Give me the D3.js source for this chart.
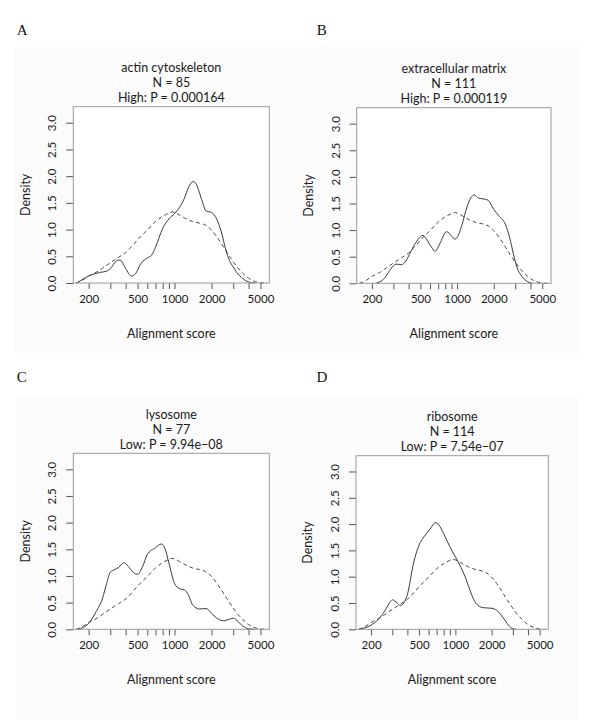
<!DOCTYPE html>
<html>
<head>
<meta charset="utf-8">
<script src="https://cdn.jsdelivr.net/npm/d3@7"></script>
<style>
  html, body { margin: 0; padding: 0; background: #ffffff; }
  svg { display: block; }
  text { font-family: Lato, "Open Sans", sans-serif; fill: #1a1a1a; }
</style>
</head>
<body>
<svg id="chart" width="600" height="720"></svg>
<script>
// ---------------- data ----------------
const panelLetters = ["A", "B", "C", "D"];
const categories = ["actin cytoskeleton", "extracellular matrix", "lysosome", "ribosome"];
const nValues = [85, 111, 77, 114];
const pLabels = ["High: P = 0.000164", "High: P = 0.000119", "Low: P = 9.94e\u221208", "Low: P = 7.54e\u221207"];
const xLabel = "Alignment score";
const yLabel = "Density";
const xTickValues = [200, 300, 400, 500, 600, 700, 800, 900, 1000, 2000, 3000, 4000, 5000];
const xTickLabels = [200, 500, 1000, 2000, 5000];
const yTickValues = [0, 0.5, 1.0, 1.5, 2.0, 2.5, 3.0];

// background (all genes) density, dashed
const backgroundX = [158, 175, 200, 230, 260, 300, 350, 400, 450, 500, 600, 700, 800, 900, 950, 1000, 1100, 1200, 1400, 1600, 1800, 2000, 2200, 2400, 2800, 3200, 3600, 4000, 4500, 5000, 5500];
const backgroundY = [0, 0.04, 0.13, 0.2, 0.28, 0.38, 0.48, 0.57, 0.69, 0.81, 0.99, 1.15, 1.25, 1.31, 1.33, 1.32, 1.27, 1.22, 1.15, 1.12, 1.08, 0.99, 0.87, 0.74, 0.5, 0.31, 0.18, 0.09, 0.03, 0.005, 0];

// category densities, solid
const actinX = [160, 200, 250, 280, 300, 340, 360, 400, 445, 480, 530, 600, 650, 700, 800, 900, 1000, 1100, 1200, 1300, 1420, 1500, 1600, 1700, 1800, 2000, 2200, 2400, 2600, 2800, 3000, 3200, 3600, 4000, 4500];
const actinY = [0, 0.13, 0.2, 0.22, 0.27, 0.42, 0.43, 0.27, 0.13, 0.17, 0.36, 0.47, 0.52, 0.67, 1.02, 1.2, 1.3, 1.42, 1.58, 1.79, 1.9, 1.85, 1.68, 1.49, 1.35, 1.32, 1.2, 0.96, 0.64, 0.42, 0.3, 0.2, 0.08, 0.02, 0];

const ecmX = [215, 250, 280, 300, 320, 350, 380, 420, 460, 525, 560, 620, 660, 720, 820, 900, 960, 1000, 1100, 1200, 1300, 1380, 1500, 1700, 1800, 2000, 2200, 2500, 2700, 2900, 3100, 3400, 3800, 4200];
const ecmY = [0, 0.08, 0.24, 0.33, 0.36, 0.35, 0.42, 0.61, 0.77, 0.9, 0.83, 0.67, 0.6, 0.74, 0.97, 0.89, 0.83, 0.86, 1.11, 1.42, 1.61, 1.66, 1.6, 1.58, 1.56, 1.39, 1.27, 1.1, 0.86, 0.55, 0.3, 0.13, 0.03, 0];

const lysoX = [164, 200, 230, 260, 280, 300, 320, 350, 390, 420, 460, 500, 550, 600, 700, 780, 840, 900, 1000, 1100, 1200, 1300, 1400, 1600, 1800, 2000, 2200, 2500, 2800, 3000, 3300, 3600, 4000, 4500];
const lysoY = [0, 0.11, 0.33, 0.59, 0.86, 1.07, 1.11, 1.16, 1.25, 1.18, 1.07, 1.03, 1.18, 1.4, 1.53, 1.6, 1.5, 1.24, 0.86, 0.76, 0.74, 0.64, 0.46, 0.38, 0.39, 0.3, 0.21, 0.16, 0.19, 0.21, 0.14, 0.06, 0.01, 0];

const riboX = [158, 200, 230, 260, 290, 300, 330, 350, 380, 400, 450, 500, 550, 600, 650, 680, 730, 800, 900, 1000, 1100, 1200, 1300, 1400, 1500, 1700, 2000, 2200, 2400, 2600, 2800, 3000, 3200];
const riboY = [0, 0.08, 0.19, 0.35, 0.53, 0.56, 0.5, 0.45, 0.53, 0.66, 1.26, 1.6, 1.76, 1.87, 1.98, 2.03, 1.98, 1.82, 1.57, 1.38, 1.2, 1.01, 0.79, 0.6, 0.48, 0.41, 0.4, 0.36, 0.27, 0.16, 0.06, 0.01, 0];

const seriesX = [actinX, ecmX, lysoX, riboX];
const seriesY = [actinY, ecmY, lysoY, riboY];

// ---------------- layout ----------------
const xDomain = [150, 5900];
const yDomain = [0, 3.3];
const layout = [
  {left: 73.3, right: 269.3, top: 106.7, bottom: 283.0, lx: 16.7, ly: 35},
  {left: 356.7, right: 551.0, top: 107.7, bottom: 283.3, lx: 316.7, ly: 35},
  {left: 73.3, right: 269.3, top: 453.3, bottom: 629.3, lx: 16.7, ly: 382},
  {left: 356.0, right: 548.3, top: 455.7, bottom: 629.3, lx: 316.5, ly: 382}
];
const panelBg = [
  {x: 14, y: 47, w: 566, h: 306},
  {x: 16, y: 397, w: 562, h: 323}
];

const svg = d3.select("#chart");
svg.append("rect").attr("x", 0).attr("y", 0).attr("width", 600).attr("height", 720).attr("fill", "#ffffff");
panelBg.forEach(b => {
  svg.append("rect").attr("x", b.x).attr("y", b.y).attr("width", b.w).attr("height", b.h).attr("fill", "#fbfbfb");
});

layout.forEach((L, i) => {
  const g = svg.append("g");
  const x = d3.scaleLog().domain(xDomain).range([L.left, L.right]);
  const y = d3.scaleLinear().domain(yDomain).range([L.bottom, L.top]);

  // plot region background
  g.append("rect").attr("x", L.left).attr("y", L.top)
    .attr("width", L.right - L.left).attr("height", L.bottom - L.top)
    .attr("fill", "#ffffff");

  // panel letter
  g.append("text").attr("x", L.lx).attr("y", L.ly)
    .style("font-family", "'Liberation Serif', 'DejaVu Serif', serif")
    .style("font-size", "15px").style("fill", "#111")
    .text(panelLetters[i]);

  // title
  const titleLines = [categories[i], "N = " + nValues[i], pLabels[i]];
  const cx = (L.left + L.right) / 2;
  titleLines.forEach((t, k) => {
    g.append("text").attr("x", cx).attr("y", L.top - 39 + k * 15)
      .attr("text-anchor", "middle").attr("dominant-baseline", "central")
      .style("font-size", "12.5px").text(t);
  });

  // x axis
  const xAxis = d3.axisBottom(x).tickValues(xTickValues).tickSize(6).tickPadding(6)
    .tickFormat(d => xTickLabels.includes(d) ? String(d) : "");
  const gx = g.append("g").attr("transform", `translate(0,${L.bottom})`).call(xAxis);
  gx.select(".domain").remove();
  gx.selectAll(".tick line").attr("stroke", "#555");
  gx.selectAll(".tick text").style("font-size", "11.5px").style("font-family", "Lato, sans-serif").attr("fill", "#1a1a1a");

  // y axis
  const yAxis = d3.axisLeft(y).tickValues(yTickValues).tickSize(7).tickFormat(d3.format(".1f"));
  const gy = g.append("g").attr("transform", `translate(${L.left},0)`).call(yAxis);
  gy.select(".domain").remove();
  gy.selectAll(".tick line").attr("stroke", "#555");
  gy.selectAll(".tick text")
    .attr("x", null).attr("dy", null)
    .attr("text-anchor", "middle").attr("dominant-baseline", "central")
    .attr("transform", `translate(-21.6,0) rotate(-90)`)
    .style("font-size", "11.5px").style("font-family", "Lato, sans-serif").attr("fill", "#1a1a1a");

  // axis titles
  g.append("text").attr("x", cx).attr("y", L.bottom + 50)
    .attr("text-anchor", "middle").attr("dominant-baseline", "central")
    .style("font-size", "12.5px").text(xLabel);
  g.append("text")
    .attr("transform", `translate(${L.left - 48.3},${(L.top + L.bottom) / 2}) rotate(-90)`)
    .attr("text-anchor", "middle").attr("dominant-baseline", "central")
    .style("font-size", "12.5px").text(yLabel);

  // curves
  const line = d3.line().x(d => x(d[0])).y(d => y(d[1])).curve(d3.curveMonotoneX);
  const clipId = "clip" + i;
  g.append("clipPath").attr("id", clipId).append("rect")
    .attr("x", L.left).attr("y", L.top).attr("width", L.right - L.left).attr("height", L.bottom - L.top + 1);
  const bgData = backgroundX.map((v, k) => [v, backgroundY[k]]);
  g.append("path").datum(bgData).attr("d", line)
    .attr("clip-path", `url(#${clipId})`)
    .attr("fill", "none").attr("stroke", "#4a4a4a").attr("stroke-width", 1).attr("stroke-dasharray", "4,3");
  const sData = seriesX[i].map((v, k) => [v, seriesY[i][k]]);
  g.append("path").datum(sData).attr("d", line)
    .attr("clip-path", `url(#${clipId})`)
    .attr("fill", "none").attr("stroke", "#3a3a3a").attr("stroke-width", 1);

  // box
  g.append("rect").attr("x", L.left).attr("y", L.top)
    .attr("width", L.right - L.left).attr("height", L.bottom - L.top)
    .attr("fill", "none").attr("stroke", "#999").attr("stroke-width", 1);
});
</script>
</body>
</html>
